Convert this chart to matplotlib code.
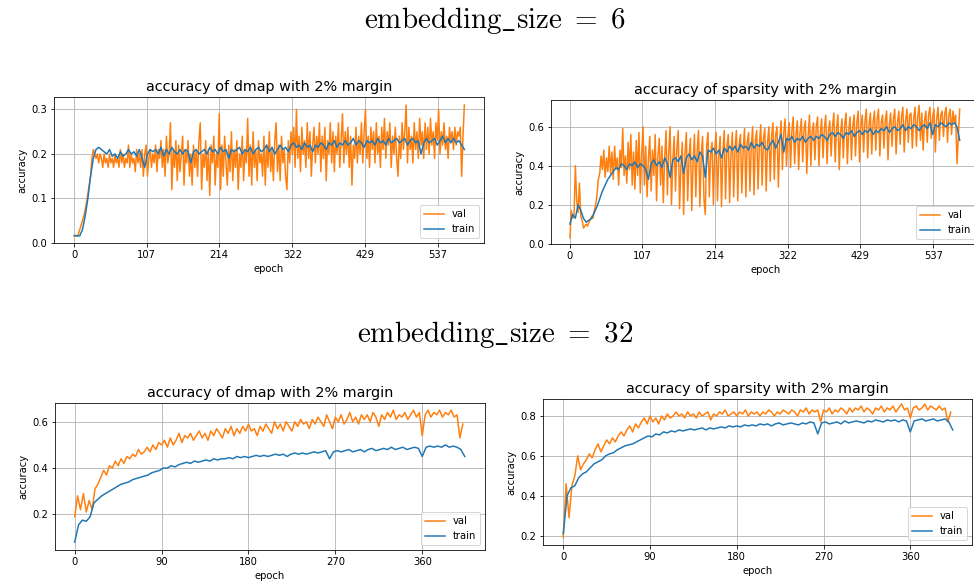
import numpy as np
import matplotlib
matplotlib.use("Agg")
import matplotlib.pyplot as plt

plt.rcParams['mathtext.fontset'] = 'cm'

# ---------------- data ----------------
# embedding_size = 6, dmap  (val every 2 epochs, train every 4 epochs)
e6_dmap_val = [
    0.015, 0.016, 0.016, 0.02, 0.03, 0.04, 0.05, 0.06, 0.075, 0.09,
    0.11, 0.13, 0.15, 0.19, 0.21, 0.20, 0.19, 0.20, 0.18, 0.20,
    0.19, 0.17, 0.20, 0.18, 0.19, 0.17, 0.20, 0.18, 0.19, 0.17,
    0.20, 0.18, 0.19, 0.17, 0.21, 0.18, 0.20, 0.17, 0.19, 0.18,
    0.22, 0.17, 0.20, 0.18, 0.19, 0.16, 0.21, 0.18, 0.20, 0.17,
    0.21, 0.15, 0.20, 0.22, 0.15, 0.19, 0.21, 0.17, 0.20, 0.18,
    0.22, 0.16, 0.21, 0.19, 0.23, 0.17, 0.21, 0.15, 0.24, 0.18,
    0.20, 0.27, 0.12, 0.21, 0.17, 0.23, 0.14, 0.22, 0.16, 0.20,
    0.24, 0.13, 0.21, 0.18, 0.23, 0.15, 0.20, 0.13, 0.22, 0.17,
    0.21, 0.15, 0.23, 0.27, 0.12, 0.20, 0.17, 0.23, 0.14, 0.21,
    0.107, 0.22, 0.18, 0.24, 0.13, 0.20, 0.17, 0.29, 0.12, 0.22,
    0.15, 0.24, 0.18, 0.13, 0.22, 0.16, 0.25, 0.14, 0.21, 0.17,
    0.23, 0.12, 0.20, 0.17, 0.24, 0.14, 0.21, 0.18, 0.28, 0.15,
    0.22, 0.13, 0.25, 0.17, 0.21, 0.14, 0.23, 0.18, 0.20, 0.15,
    0.24, 0.13, 0.22, 0.17, 0.25, 0.16, 0.21, 0.14, 0.23, 0.27,
    0.16, 0.22, 0.14, 0.24, 0.18, 0.21, 0.15, 0.12, 0.23, 0.18,
    0.25, 0.20, 0.26, 0.17, 0.30, 0.19, 0.24, 0.16, 0.26, 0.20,
    0.23, 0.17, 0.27, 0.19, 0.25, 0.15, 0.22, 0.26, 0.18, 0.24,
    0.20, 0.27, 0.16, 0.24, 0.19, 0.26, 0.14, 0.23, 0.20, 0.27,
    0.18, 0.25, 0.16, 0.24, 0.20, 0.27, 0.17, 0.23, 0.29, 0.18,
    0.25, 0.20, 0.26, 0.17, 0.24, 0.13, 0.22, 0.19, 0.26, 0.18,
    0.24, 0.20, 0.27, 0.18, 0.25, 0.30, 0.19, 0.24, 0.17, 0.26,
    0.21, 0.25, 0.18, 0.27, 0.20, 0.24, 0.17, 0.26, 0.21, 0.28,
    0.19, 0.25, 0.22, 0.27, 0.17, 0.24, 0.20, 0.26, 0.19, 0.15,
    0.24, 0.19, 0.27, 0.21, 0.25, 0.31, 0.18, 0.26, 0.21, 0.24,
    0.18, 0.27, 0.21, 0.25, 0.19, 0.28, 0.22, 0.25, 0.19, 0.27,
    0.21, 0.26, 0.20, 0.28, 0.22, 0.25, 0.19, 0.27, 0.23, 0.30,
    0.20, 0.25, 0.22, 0.27, 0.21, 0.24, 0.19, 0.26, 0.23, 0.25,
    0.21, 0.26, 0.22, 0.25, 0.24, 0.26, 0.15, 0.24, 0.31,
]
e6_dmap_train = [
    0.017, 0.016, 0.016, 0.03, 0.06, 0.10, 0.15, 0.19, 0.21, 0.215,
    0.21, 0.205, 0.20, 0.21, 0.195, 0.20, 0.19, 0.205, 0.195, 0.20,
    0.21, 0.20, 0.205, 0.195, 0.21, 0.19, 0.17, 0.20, 0.21, 0.205,
    0.21, 0.20, 0.215, 0.195, 0.21, 0.20, 0.215, 0.205, 0.20, 0.21,
    0.20, 0.21, 0.205, 0.18, 0.205, 0.21, 0.20, 0.205, 0.21, 0.20,
    0.215, 0.205, 0.21, 0.20, 0.215, 0.205, 0.21, 0.19, 0.21, 0.205,
    0.21, 0.215, 0.20, 0.21, 0.205, 0.215, 0.20, 0.21, 0.215, 0.205,
    0.21, 0.22, 0.205, 0.215, 0.20, 0.21, 0.22, 0.21, 0.215, 0.205,
    0.22, 0.225, 0.215, 0.22, 0.21, 0.225, 0.215, 0.22, 0.205, 0.22,
    0.215, 0.225, 0.22, 0.21, 0.225, 0.22, 0.23, 0.215, 0.225, 0.22,
    0.23, 0.22, 0.225, 0.235, 0.22, 0.23, 0.225, 0.215, 0.23, 0.225,
    0.23, 0.22, 0.235, 0.225, 0.23, 0.22, 0.235, 0.225, 0.23, 0.235,
    0.225, 0.23, 0.235, 0.22, 0.23, 0.235, 0.225, 0.23, 0.20, 0.225,
    0.235, 0.225, 0.23, 0.235, 0.22, 0.23, 0.24, 0.225, 0.235, 0.225,
    0.235, 0.225, 0.23, 0.22, 0.21,
]
# embedding_size = 6, sparsity
e6_sp_val = [
    0.03, 0.17, 0.13, 0.14, 0.40, 0.22, 0.16, 0.31, 0.14, 0.12,
    0.08, 0.09, 0.10, 0.09, 0.11, 0.12, 0.14, 0.13, 0.17, 0.20,
    0.25, 0.33, 0.36, 0.45, 0.38, 0.48, 0.34, 0.44, 0.37, 0.50,
    0.36, 0.47, 0.33, 0.50, 0.38, 0.44, 0.30, 0.48, 0.39, 0.59,
    0.35, 0.45, 0.31, 0.52, 0.38, 0.56, 0.30, 0.47, 0.28, 0.53,
    0.35, 0.57, 0.26, 0.46, 0.60, 0.30, 0.50, 0.24, 0.44, 0.55,
    0.27, 0.48, 0.35, 0.56, 0.22, 0.45, 0.54, 0.30, 0.50, 0.21,
    0.44, 0.58, 0.25, 0.47, 0.60, 0.20, 0.42, 0.55, 0.27, 0.49,
    0.58, 0.18, 0.40, 0.52, 0.15, 0.46, 0.57, 0.22, 0.44, 0.54,
    0.17, 0.42, 0.56, 0.24, 0.48, 0.58, 0.19, 0.45, 0.55, 0.23,
    0.15, 0.50, 0.57, 0.24, 0.46, 0.52, 0.20, 0.48, 0.57, 0.22,
    0.45, 0.55, 0.19, 0.47, 0.58, 0.23, 0.50, 0.56, 0.21, 0.46,
    0.57, 0.24, 0.49, 0.58, 0.22, 0.51, 0.56, 0.26, 0.48, 0.59,
    0.24, 0.52, 0.57, 0.27, 0.50, 0.60, 0.25, 0.53, 0.58, 0.28,
    0.51, 0.61, 0.30, 0.54, 0.59, 0.27, 0.52, 0.60, 0.32, 0.55,
    0.62, 0.33, 0.56, 0.60, 0.29, 0.53, 0.63, 0.38, 0.57, 0.64,
    0.40, 0.55, 0.62, 0.39, 0.58, 0.65, 0.41, 0.56, 0.63, 0.38,
    0.57, 0.64, 0.42, 0.59, 0.63, 0.36, 0.55, 0.66, 0.40, 0.58,
    0.62, 0.43, 0.60, 0.65, 0.40, 0.57, 0.64, 0.44, 0.59, 0.66,
    0.41, 0.58, 0.63, 0.45, 0.60, 0.67, 0.42, 0.59, 0.66, 0.38,
    0.57, 0.64, 0.44, 0.61, 0.67, 0.41, 0.58, 0.65, 0.43, 0.60,
    0.66, 0.45, 0.62, 0.68, 0.42, 0.60, 0.66, 0.47, 0.63, 0.69,
    0.44, 0.61, 0.67, 0.46, 0.62, 0.68, 0.48, 0.64, 0.69, 0.45,
    0.62, 0.66, 0.49, 0.63, 0.68, 0.43, 0.61, 0.67, 0.50, 0.64,
    0.69, 0.46, 0.62, 0.68, 0.51, 0.65, 0.70, 0.47, 0.63, 0.69,
    0.52, 0.66, 0.67, 0.49, 0.64, 0.70, 0.50, 0.65, 0.71, 0.53,
    0.67, 0.48, 0.63, 0.68, 0.52, 0.66, 0.70, 0.54, 0.65, 0.69,
    0.47, 0.64, 0.70, 0.53, 0.66, 0.68, 0.55, 0.67, 0.70, 0.52,
    0.66, 0.69, 0.56, 0.68, 0.62, 0.66, 0.41, 0.55, 0.69,
]
e6_sp_train = [
    0.10, 0.15, 0.13, 0.20, 0.17, 0.13, 0.11, 0.12, 0.13, 0.16,
    0.19, 0.23, 0.27, 0.30, 0.33, 0.35, 0.37, 0.39, 0.38, 0.41,
    0.40, 0.38, 0.41, 0.40, 0.42, 0.39, 0.41, 0.40, 0.38, 0.33,
    0.41, 0.43, 0.40, 0.42, 0.39, 0.44, 0.41, 0.34, 0.43, 0.44,
    0.42, 0.45, 0.36, 0.44, 0.46, 0.43, 0.45, 0.42, 0.47, 0.45,
    0.34, 0.48, 0.47, 0.49, 0.46, 0.48, 0.44, 0.49, 0.47, 0.50,
    0.48, 0.50, 0.47, 0.51, 0.49, 0.50, 0.48, 0.52, 0.49, 0.51,
    0.50, 0.52, 0.49, 0.48, 0.51, 0.53, 0.49, 0.52, 0.56, 0.47,
    0.54, 0.53, 0.55, 0.52, 0.54, 0.53, 0.55, 0.52, 0.54, 0.55,
    0.53, 0.55, 0.54, 0.56, 0.55, 0.53, 0.56, 0.57, 0.55, 0.57,
    0.56, 0.54, 0.57, 0.56, 0.58, 0.55, 0.57, 0.58, 0.56, 0.58,
    0.57, 0.59, 0.56, 0.58, 0.57, 0.59, 0.58, 0.60, 0.57, 0.59,
    0.60, 0.58, 0.59, 0.61, 0.58, 0.60, 0.59, 0.61, 0.60, 0.58,
    0.60, 0.61, 0.59, 0.62, 0.56, 0.61, 0.60, 0.62, 0.61, 0.60,
    0.62, 0.61, 0.62, 0.60, 0.53,
]
# embedding_size = 32, dmap  (val every 3 epochs, train every 4 epochs)
e32_dmap_val = [
    0.19, 0.28, 0.22, 0.29, 0.21, 0.26, 0.22, 0.31, 0.33, 0.36,
    0.39, 0.37, 0.41, 0.40, 0.43, 0.41, 0.44, 0.42, 0.45, 0.44,
    0.46, 0.45, 0.48, 0.46, 0.47, 0.49, 0.47, 0.50, 0.48, 0.51,
    0.50, 0.52, 0.49, 0.53, 0.50, 0.52, 0.55, 0.51, 0.54, 0.53,
    0.55, 0.52, 0.54, 0.56, 0.53, 0.55, 0.52, 0.56, 0.54, 0.57,
    0.55, 0.53, 0.57, 0.55, 0.58, 0.54, 0.57, 0.55, 0.58, 0.56,
    0.59, 0.56, 0.57, 0.54, 0.58, 0.56, 0.59, 0.57, 0.55, 0.60,
    0.57, 0.59, 0.56, 0.60, 0.58, 0.56, 0.60, 0.58, 0.61, 0.59,
    0.60, 0.57, 0.61, 0.59, 0.62, 0.60, 0.58, 0.63, 0.60, 0.57,
    0.62, 0.60, 0.63, 0.59, 0.61, 0.64, 0.60, 0.62, 0.59, 0.63,
    0.61, 0.63, 0.60, 0.64, 0.62, 0.58, 0.63, 0.61, 0.64, 0.62,
    0.65, 0.61, 0.63, 0.62, 0.64, 0.61, 0.63, 0.65, 0.62, 0.64,
    0.54, 0.63, 0.65, 0.62, 0.64, 0.63, 0.65, 0.62, 0.64, 0.63,
    0.65, 0.62, 0.63, 0.53, 0.59,
]
e32_dmap_train = [
    0.08, 0.155, 0.175, 0.17, 0.19, 0.25, 0.265, 0.28, 0.29, 0.30,
    0.31, 0.32, 0.33, 0.335, 0.34, 0.35, 0.355, 0.36, 0.365, 0.37,
    0.38, 0.385, 0.39, 0.40, 0.40, 0.41, 0.405, 0.415, 0.42, 0.425,
    0.42, 0.43, 0.425, 0.43, 0.435, 0.43, 0.44, 0.435, 0.44, 0.44,
    0.445, 0.44, 0.45, 0.445, 0.45, 0.445, 0.45, 0.455, 0.45, 0.455,
    0.45, 0.455, 0.46, 0.455, 0.46, 0.45, 0.46, 0.465, 0.46, 0.465,
    0.46, 0.465, 0.47, 0.465, 0.47, 0.475, 0.44, 0.47, 0.475, 0.47,
    0.475, 0.48, 0.47, 0.475, 0.48, 0.47, 0.48, 0.485, 0.475, 0.48,
    0.485, 0.48, 0.49, 0.48, 0.485, 0.49, 0.48, 0.485, 0.49, 0.485,
    0.45, 0.49, 0.495, 0.49, 0.495, 0.49, 0.50, 0.49, 0.495, 0.49,
    0.48, 0.45,
]
# embedding_size = 32, sparsity
e32_sp_val = [
    0.19, 0.46, 0.29, 0.45, 0.50, 0.60, 0.53, 0.56, 0.58, 0.61,
    0.59, 0.63, 0.66, 0.62, 0.65, 0.68, 0.66, 0.69, 0.67, 0.70,
    0.72, 0.70, 0.73, 0.75, 0.72, 0.76, 0.74, 0.77, 0.79, 0.76,
    0.80, 0.77, 0.79, 0.76, 0.80, 0.78, 0.81, 0.79, 0.80, 0.82,
    0.80, 0.81, 0.79, 0.82, 0.80, 0.81, 0.79, 0.82, 0.80, 0.81,
    0.82, 0.78, 0.81, 0.80, 0.82, 0.81, 0.83, 0.80, 0.81, 0.82,
    0.80, 0.82, 0.81, 0.83, 0.80, 0.82, 0.81, 0.82, 0.80, 0.82,
    0.81, 0.83, 0.82, 0.80, 0.82, 0.81, 0.83, 0.82, 0.81, 0.83,
    0.82, 0.80, 0.83, 0.82, 0.84, 0.81, 0.83, 0.82, 0.83, 0.77,
    0.83, 0.82, 0.84, 0.81, 0.83, 0.82, 0.84, 0.83, 0.81, 0.84,
    0.82, 0.84, 0.83, 0.85, 0.82, 0.84, 0.83, 0.81, 0.84, 0.83,
    0.85, 0.82, 0.84, 0.83, 0.85, 0.82, 0.84, 0.86, 0.83, 0.84,
    0.79, 0.84, 0.85, 0.83, 0.84, 0.86, 0.83, 0.85, 0.84, 0.83,
    0.85, 0.83, 0.84, 0.77, 0.82,
]
e32_sp_train = [
    0.21, 0.40, 0.44, 0.45, 0.49, 0.51, 0.52, 0.54, 0.56, 0.57,
    0.58, 0.60, 0.61, 0.615, 0.63, 0.64, 0.65, 0.655, 0.66, 0.67,
    0.68, 0.69, 0.70, 0.695, 0.71, 0.705, 0.72, 0.715, 0.725, 0.72,
    0.73, 0.725, 0.73, 0.735, 0.73, 0.735, 0.74, 0.73, 0.74, 0.735,
    0.74, 0.745, 0.74, 0.75, 0.745, 0.75, 0.745, 0.755, 0.75, 0.755,
    0.75, 0.76, 0.755, 0.76, 0.75, 0.76, 0.765, 0.755, 0.76, 0.765,
    0.76, 0.755, 0.765, 0.76, 0.77, 0.765, 0.71, 0.765, 0.77, 0.76,
    0.765, 0.77, 0.76, 0.775, 0.765, 0.77, 0.775, 0.77, 0.765, 0.775,
    0.77, 0.78, 0.775, 0.77, 0.78, 0.775, 0.78, 0.77, 0.78, 0.775,
    0.72, 0.775, 0.78, 0.785, 0.775, 0.78, 0.785, 0.775, 0.78, 0.785,
    0.77, 0.73,
]

ticks_e6 = [0, 107, 214, 322, 429, 537]
ticks_e32 = [0, 90, 180, 270, 360]
titles = ["accuracy of dmap with 2% margin", "accuracy of sparsity with 2% margin"]
suptitles = [r"$\mathrm{embedding\_size}\ =\ 6$", r"$\mathrm{embedding\_size}\ =\ 32$"]

# ---------------- figure ----------------
W, H = 974, 586
DPI = 72
fig = plt.figure(figsize=(W / DPI, H / DPI), dpi=DPI)


def px_axes(left, top, right, bottom):
    return fig.add_axes([left / W, 1 - bottom / H, (right - left) / W, (bottom - top) / H])


panels = [
    dict(rect=(54, 97, 484, 243), val=e6_dmap_val, train=e6_dmap_train, vstep=2, tstep=4,
         title=titles[0], ticks=ticks_e6, xlim=(-30, 605), ylim=(0.0, 0.328),
         yticks=[0.0, 0.1, 0.2, 0.3]),
    dict(rect=(551, 100, 980, 244), val=e6_sp_val, train=e6_sp_train, vstep=2, tstep=4,
         title=titles[1], ticks=ticks_e6, xlim=(-28, 606), ylim=(-0.002, 0.737),
         yticks=[0.0, 0.2, 0.4, 0.6]),
    dict(rect=(55, 403, 485, 550), val=e32_dmap_val, train=e32_dmap_train, vstep=3, tstep=4,
         title=titles[0], ticks=ticks_e32, xlim=(-20.4, 425), ylim=(0.046, 0.681),
         yticks=[0.2, 0.4, 0.6]),
    dict(rect=(543, 399, 972, 545), val=e32_sp_val, train=e32_sp_train, vstep=3, tstep=4,
         title=titles[1], ticks=ticks_e32, xlim=(-21, 424), ylim=(0.153, 0.885),
         yticks=[0.2, 0.4, 0.6, 0.8]),
]

for p in panels:
    ax = px_axes(*p["rect"])
    xv = np.arange(len(p["val"])) * p["vstep"]
    xt = np.arange(len(p["train"])) * p["tstep"]
    ax.plot(xv, p["val"], color="#ff7f0e", lw=1.5, label="val")
    ax.plot(xt, p["train"], color="#1f77b4", lw=1.5, label="train")
    ax.set_xlim(*p["xlim"])
    ax.set_ylim(*p["ylim"])
    ax.set_xticks(p["ticks"])
    ax.set_xticklabels([str(t) for t in p["ticks"]])
    ax.set_yticks(p["yticks"])
    ax.grid(True)
    ax.set_title(p["title"], fontsize=14.4)
    ax.set_xlabel("epoch", fontsize=10)
    ax.set_ylabel("accuracy", fontsize=10)
    ax.legend(loc="lower right", fontsize=10)

fig.text(495 / W, 1 - 20 / H, suptitles[0], ha="center", va="center", fontsize=29)
fig.text(495 / W, 1 - 335 / H, suptitles[1], ha="center", va="center", fontsize=29)

fig.savefig("out.png", dpi=DPI)
